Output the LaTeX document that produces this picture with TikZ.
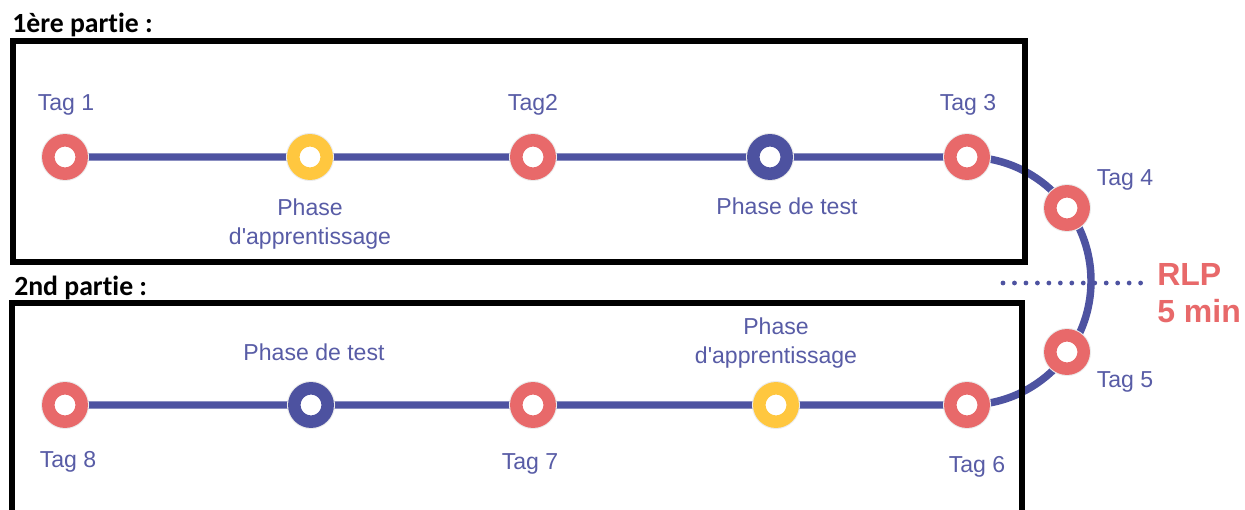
\documentclass[tikz,border=0pt]{standalone}
\usepackage{fontspec}
\newfontfamily\lblfont{Liberation Sans}
\newfontfamily\titlefont{Carlito}[Ligatures=NoCommon]
\usetikzlibrary{backgrounds}
\definecolor{tagred}{RGB}{232,105,106}
\definecolor{tagyellow}{RGB}{255,199,63}
\definecolor{tagblue}{RGB}{77,82,160}
\definecolor{trackcol}{RGB}{78,83,161}
\definecolor{lblcol}{RGB}{88,92,166}
\tikzset{
  tagdot/.style={circle, fill=white, draw=#1, line width=9.4pt, minimum size=25pt, inner sep=0pt,
    preaction={draw=black!8, line width=11pt}},
  track/.style={draw=trackcol, line width=5.6pt},
  frame/.style={draw=black, line width=4.5pt},
  lbl/.style={text=lblcol, font=\lblfont\fontsize{17.3}{21.5}\selectfont, inner sep=0pt},
  parttitle/.style={text=black, font=\titlefont\bfseries\fontsize{20.8}{24}\selectfont, inner sep=0pt},
  rlp/.style={text=tagred, font=\lblfont\bfseries\fontsize{24}{27.75}\selectfont, inner sep=0pt},
  dotline/.style={draw=trackcol, line width=3.6pt, line cap=round, dash pattern=on 0pt off 8.6pt}
}
\begin{document}
\begin{tikzpicture}[x=0.75pt,y=0.75pt]
\clip (0,0) rectangle (1245,-510);
% frames
\draw[frame] (13,-41) rectangle (1025,-262);
\draw[frame] (12,-303) rectangle (1022,-530);
% titles
\node[parttitle, anchor=base west] (p1) at (12,-33) {1ère partie :};
\node[parttitle, anchor=base west] (p2) at (14,-295) {2nd partie :};
% stations
\node[tagdot=tagred] (t1) at (65,-157) {};
\node[tagdot=tagyellow] (a1) at (310,-157) {};
\node[tagdot=tagred] (t2) at (533,-157) {};
\node[tagdot=tagblue] (e1) at (770,-157) {};
\node[tagdot=tagred] (t3) at (967,-157) {};
\node[tagdot=tagred] (t4) at (1067,-208) {};
\node[tagdot=tagred] (t5) at (1067,-352) {};
\node[tagdot=tagred] (t6) at (967,-405) {};
\node[tagdot=tagyellow] (a2) at (776,-405) {};
\node[tagdot=tagred] (t7) at (533,-405) {};
\node[tagdot=tagblue] (e2) at (311,-405) {};
\node[tagdot=tagred] (t8) at (65,-405) {};
% dotted separator
\coordinate (d1) at (1003,-283);
\coordinate (d2) at (1145,-283);
\begin{scope}[on background layer]
\fill[white] (0,0) rectangle (1245,-510);
\draw[dotline] (d1) -- (d2);
\draw[track] (t1.center) -- (t3.center) arc[start angle=90, end angle=-90, radius=124] -- (t8.center);
\end{scope}
% labels
\node[lbl, anchor=base] (l1) at (66,-110) {Tag 1};
\node[lbl, anchor=base] (l2) at (533,-110) {Tag2};
\node[lbl, anchor=base] (l3) at (968,-110) {Tag 3};
\node[lbl, anchor=base, align=center] (la1) at (310,-244) {Phase\\d'apprentissage};
\node[lbl, anchor=base] (le1) at (787,-214) {Phase de test};
\node[lbl, anchor=base] (l4) at (1125,-185) {Tag 4};
\node[lbl, anchor=base] (l5) at (1125,-387) {Tag 5};
\node[rlp, anchor=base west, align=left] (rlp) at (1157,-322) {RLP\\5 min};
\node[lbl, anchor=base] (le2) at (314,-360) {Phase de test};
\node[lbl, anchor=base, align=center] (la2) at (776,-363) {Phase\\d'apprentissage};
\node[lbl, anchor=base] (l8) at (68,-467) {Tag 8};
\node[lbl, anchor=base] (l7) at (530,-469) {Tag 7};
\node[lbl, anchor=base] (l6) at (977,-472) {Tag 6};
\end{tikzpicture}
\end{document}
